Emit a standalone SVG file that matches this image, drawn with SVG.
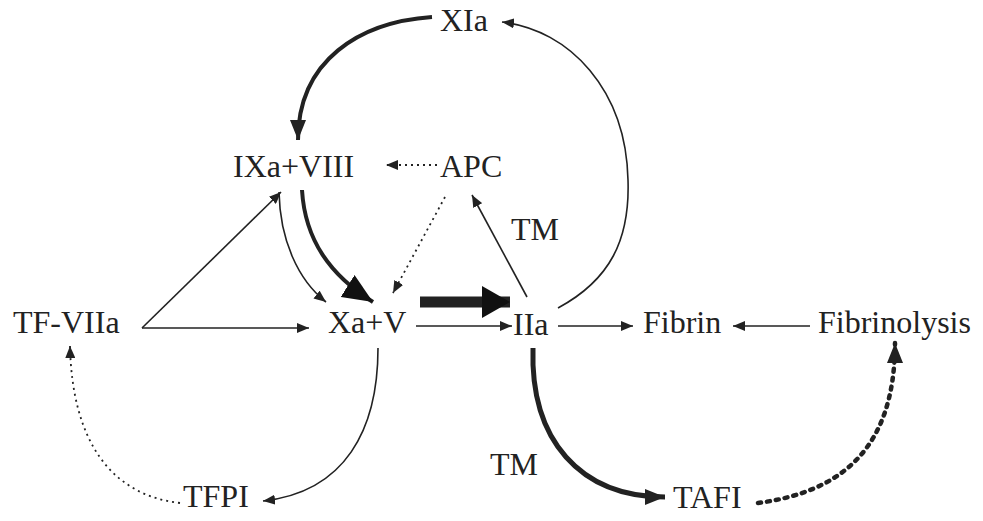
<svg xmlns="http://www.w3.org/2000/svg" width="983" height="521" viewBox="0 0 983 521">
<defs>
<style>
text{font-family:"Liberation Serif","Times New Roman",serif;font-size:32px;fill:#222}
.c{fill:none;stroke:#222}
.thin{stroke-width:1.6}
.dot{stroke-width:1.8;stroke-dasharray:2 4}
.thick{stroke-width:4}
</style>
<marker id="a" markerUnits="userSpaceOnUse" viewBox="0 0 12 10" refX="12" refY="5" markerWidth="12" markerHeight="10" orient="auto"><path d="M0,0 L12,5 L0,10 z" fill="#222"/></marker>
<marker id="am" markerUnits="userSpaceOnUse" viewBox="0 0 20 16" refX="20" refY="8" markerWidth="20" markerHeight="16" orient="auto"><path d="M0,0 L20,8 L0,16 z" fill="#222"/></marker>
<marker id="ab" markerUnits="userSpaceOnUse" viewBox="0 0 30 26" refX="30" refY="13" markerWidth="30" markerHeight="26" orient="auto"><path d="M0,0 L30,13 L0,26 z" fill="#111"/></marker>
<marker id="ah" markerUnits="userSpaceOnUse" viewBox="0 0 28 32" refX="28" refY="16" markerWidth="28" markerHeight="32" orient="auto"><path d="M0,0 L28,16 L0,32 z" fill="#111"/></marker>
</defs>
<g id="connectors">
<path class="c thick" d="M432,17 C360,22 298,60 298,140" marker-end="url(#am)"/>
<path class="c thin" d="M558,308 C610,280 630,240 628,180 C626,90 570,30 502,22" marker-end="url(#a)"/>
<path class="c dot" d="M437,165 L386,165" marker-end="url(#a)"/>
<path class="c dot" d="M445,197 L393,293" marker-end="url(#a)"/>
<path class="c thin" d="M527,297 L472,195" marker-end="url(#a)"/>
<path class="c thick" d="M302,190 C305,240 330,275 373,302" marker-end="url(#ab)"/>
<path class="c thin" d="M279,192 C280,240 298,280 326,302" marker-end="url(#a)"/>
<path class="c thin" d="M142,328 L281,192" marker-end="url(#a)"/>
<path class="c thin" d="M142,328 L309,328" marker-end="url(#a)"/>
<path class="c" stroke-width="11" d="M420,302 L510,302" marker-end="url(#ah)"/>
<path class="c thin" d="M416,326 L512,326" marker-end="url(#a)"/>
<path class="c thin" d="M558,326 L633,326" marker-end="url(#a)"/>
<path class="c thin" d="M810,326 L733,326" marker-end="url(#a)"/>
<path class="c" stroke-width="5" d="M533,348 C530,440 580,497 665,497" marker-end="url(#am)"/>
<path class="c" stroke-width="4.5" stroke-dasharray="3 6" stroke-linecap="round" d="M758,503 C840,492 895,450 895,343" marker-end="url(#am)"/>
<path class="c thin" d="M378,348 C378,430 345,492 263,501" marker-end="url(#a)"/>
<path class="c dot" d="M180,503 C110,495 72,440 70,346" marker-end="url(#a)"/>
</g>
<g id="XIa"><text x="440" y="31">XIa</text></g>
<g id="IXa_VIII"><text x="233" y="177">IXa+VIII</text></g>
<g id="APC"><text x="440" y="177">APC</text></g>
<g id="TM1"><text x="511" y="240">TM</text></g>
<g id="TF_VIIa"><text x="13" y="333">TF-VIIa</text></g>
<g id="Xa_V"><text x="328" y="333">Xa+V</text></g>
<g id="IIa"><text x="513" y="335">IIa</text></g>
<g id="Fibrin"><text x="643" y="333">Fibrin</text></g>
<g id="Fibrinolysis"><text x="818" y="333">Fibrinolysis</text></g>
<g id="TM2"><text x="490" y="475">TM</text></g>
<g id="TFPI"><text x="183" y="507">TFPI</text></g>
<g id="TAFI"><text x="673" y="508">TAFI</text></g>
</svg>
